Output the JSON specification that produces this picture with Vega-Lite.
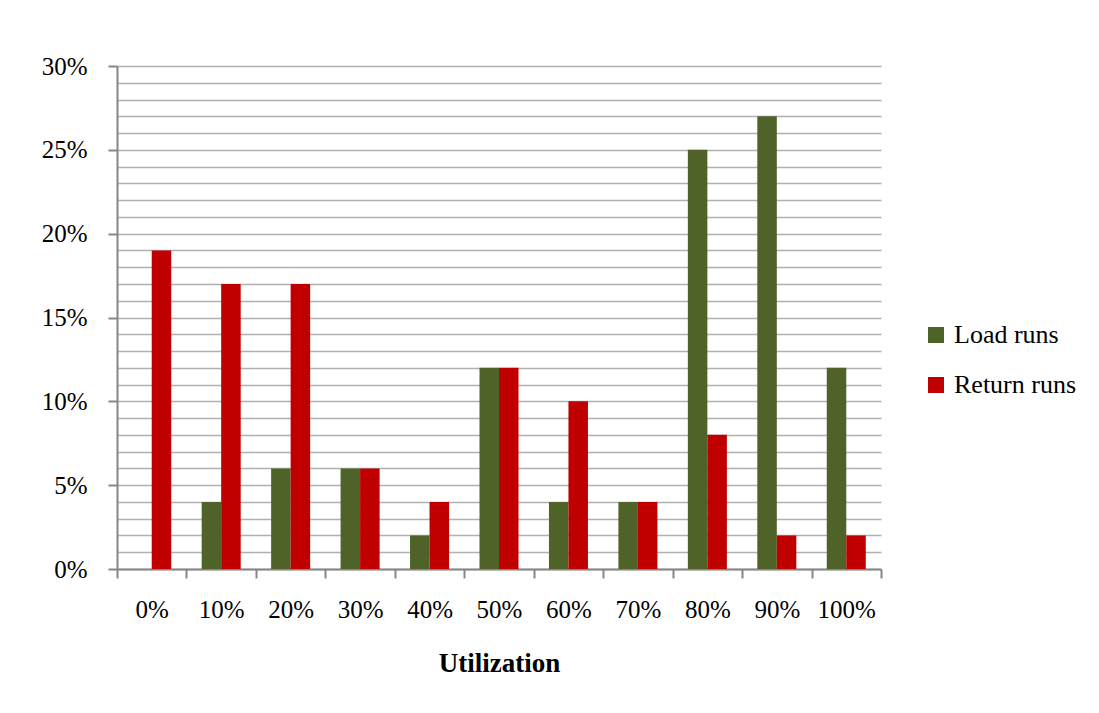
{
  "$schema": "https://vega.github.io/schema/vega-lite/v6.json",
  "width": 764,
  "height": 503,
  "autosize": "none",
  "padding": {"left": 117, "top": 66, "right": 218, "bottom": 144},
  "background": "white",
  "config": {
    "font": "Liberation Serif",
    "view": {"stroke": null}
  },
  "data": {
    "values": [
      {"util": "0%", "series": "Load runs", "value": 0},
      {"util": "0%", "series": "Return runs", "value": 0.19},
      {"util": "10%", "series": "Load runs", "value": 0.04},
      {"util": "10%", "series": "Return runs", "value": 0.17},
      {"util": "20%", "series": "Load runs", "value": 0.06},
      {"util": "20%", "series": "Return runs", "value": 0.17},
      {"util": "30%", "series": "Load runs", "value": 0.06},
      {"util": "30%", "series": "Return runs", "value": 0.06},
      {"util": "40%", "series": "Load runs", "value": 0.02},
      {"util": "40%", "series": "Return runs", "value": 0.04},
      {"util": "50%", "series": "Load runs", "value": 0.12},
      {"util": "50%", "series": "Return runs", "value": 0.12},
      {"util": "60%", "series": "Load runs", "value": 0.04},
      {"util": "60%", "series": "Return runs", "value": 0.10},
      {"util": "70%", "series": "Load runs", "value": 0.04},
      {"util": "70%", "series": "Return runs", "value": 0.04},
      {"util": "80%", "series": "Load runs", "value": 0.25},
      {"util": "80%", "series": "Return runs", "value": 0.08},
      {"util": "90%", "series": "Load runs", "value": 0.27},
      {"util": "90%", "series": "Return runs", "value": 0.02},
      {"util": "100%", "series": "Load runs", "value": 0.12},
      {"util": "100%", "series": "Return runs", "value": 0.02}
    ]
  },
  "mark": {"type": "bar"},
  "encoding": {
    "x": {
      "field": "util",
      "type": "nominal",
      "sort": ["0%", "10%", "20%", "30%", "40%", "50%", "60%", "70%", "80%", "90%", "100%"],
      "scale": {"paddingInner": 0, "paddingOuter": 0},
      "axis": {
        "title": "Utilization",
        "titleFont": "Liberation Serif",
        "titleFontSize": 27,
        "titleFontWeight": "bold",
        "titleColor": "#000000",
        "titlePadding": 28,
        "labelAngle": 0,
        "labelFont": "Liberation Serif",
        "labelFontSize": 25,
        "labelColor": "#000000",
        "labelPadding": 19,
        "domainColor": "#868686",
        "domainWidth": 2,
        "tickColor": "#868686",
        "tickWidth": 2,
        "tickSize": 9,
        "tickBand": "extent",
        "grid": false
      }
    },
    "xOffset": {
      "field": "series",
      "type": "nominal",
      "sort": ["Load runs", "Return runs"],
      "scale": {"paddingInner": 0, "paddingOuter": 0.78}
    },
    "y": {
      "field": "value",
      "type": "quantitative",
      "scale": {"domain": [0, 0.3], "nice": false, "zero": true},
      "axis": {
        "title": null,
        "values": [0, 0.01, 0.02, 0.03, 0.04, 0.05, 0.06, 0.07, 0.08, 0.09, 0.1, 0.11, 0.12, 0.13, 0.14, 0.15, 0.16, 0.17, 0.18, 0.19, 0.2, 0.21, 0.22, 0.23, 0.24, 0.25, 0.26, 0.27, 0.28, 0.29, 0.3],
        "format": ".0%",
        "labelExpr": "round(datum.value * 100) % 5 == 0 ? datum.label : ''",
        "labelFont": "Liberation Serif",
        "labelFontSize": 25,
        "labelColor": "#000000",
        "labelPadding": 21,
        "domainColor": "#868686",
        "domainWidth": 2,
        "tickColor": "#868686",
        "tickWidth": 2,
        "tickSize": 9,
        "tickOpacity": {"condition": {"test": "round(datum.value * 100) % 5 == 0", "value": 1}, "value": 0},
        "grid": true,
        "gridColor": "#B0B0B0",
        "gridWidth": 1.5
      }
    },
    "color": {
      "field": "series",
      "type": "nominal",
      "sort": ["Load runs", "Return runs"],
      "scale": {"domain": ["Load runs", "Return runs"], "range": ["#4F6228", "#C00000"]},
      "legend": {
        "title": null,
        "orient": "none",
        "legendX": 806,
        "legendY": 256,
        "symbolType": "square",
        "symbolSize": 256,
        "symbolStrokeWidth": 0,
        "symbolOpacity": 1,
        "labelFont": "Liberation Serif",
        "labelFontSize": 26,
        "labelColor": "#000000",
        "labelOffset": 5,
        "rowPadding": 24
      }
    }
  }
}
